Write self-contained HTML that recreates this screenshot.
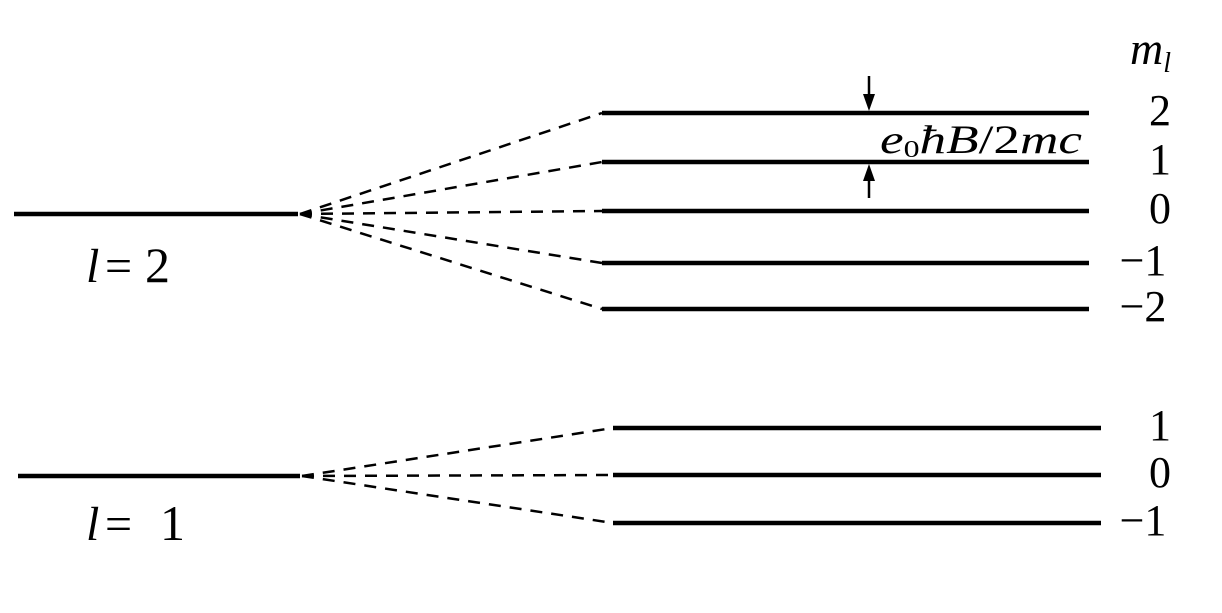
<!DOCTYPE html>
<html><head><style>body{margin:0;background:#fff}</style></head><body>
<svg width="1222" height="608" viewBox="0 0 1222 608" xmlns="http://www.w3.org/2000/svg">
<g stroke="#000" stroke-width="4.5" fill="none">
<line x1="14" y1="214" x2="298" y2="214"/>
<line x1="602" y1="113" x2="1089" y2="113"/>
<line x1="602" y1="162" x2="1089" y2="162"/>
<line x1="602" y1="211" x2="1089" y2="211"/>
<line x1="602" y1="263" x2="1089" y2="263"/>
<line x1="602" y1="309" x2="1089" y2="309"/>
<line x1="18" y1="476" x2="300" y2="476"/>
<line x1="613" y1="428" x2="1101" y2="428"/>
<line x1="613" y1="475" x2="1101" y2="475"/>
<line x1="613" y1="523" x2="1101" y2="523"/>
</g>
<g stroke="#000" stroke-width="2.5" stroke-dasharray="12,9" fill="none">
<line x1="300" y1="214" x2="602" y2="113"/>
<line x1="300" y1="214" x2="602" y2="162"/>
<line x1="300" y1="214" x2="602" y2="211"/>
<line x1="300" y1="214" x2="602" y2="263"/>
<line x1="300" y1="214" x2="602" y2="309"/>
<line x1="302" y1="476" x2="613" y2="428"/>
<line x1="302" y1="476" x2="613" y2="475"/>
<line x1="302" y1="476" x2="613" y2="523"/>
</g>
<g stroke="#000" stroke-width="2.5">
<line x1="869" y1="76" x2="869" y2="100"/>
<line x1="869" y1="175" x2="869" y2="198"/>
</g>
<polygon points="863,94 875,94 869,111" fill="#000"/>
<polygon points="863,181 875,181 869,164" fill="#000"/>
<g font-family="Liberation Serif, serif" font-size="44" fill="#000">
<text x="1130" y="64" font-style="italic" font-size="46">m<tspan font-size="28" dy="8">l</tspan></text>
<text x="1160" y="125" text-anchor="middle">2</text>
<text x="1160" y="174" text-anchor="middle">1</text>
<text x="1160" y="223" text-anchor="middle">0</text>
<text x="1143" y="275" text-anchor="middle">−1</text>
<text x="1143" y="321" text-anchor="middle">−2</text>
<text x="1160" y="440" text-anchor="middle">1</text>
<text x="1160" y="487" text-anchor="middle">0</text>
<text x="1143" y="535" text-anchor="middle">−1</text>
<text x="1082" y="153" text-anchor="end" font-size="40" textLength="202" lengthAdjust="spacingAndGlyphs"><tspan font-style="italic">e</tspan><tspan font-size="24" dy="4">0</tspan><tspan dy="-4" font-style="italic">ħB</tspan>/2<tspan font-style="italic">mc</tspan></text>
<text x="86" y="282" font-size="48" font-style="italic">l</text>
<text x="105" y="282" font-size="48">=</text>
<text x="145" y="282" font-size="50">2</text>
<text x="86" y="540" font-size="48" font-style="italic">l</text>
<text x="105" y="540" font-size="48">=</text>
<text x="160" y="540" font-size="50">1</text>
</g>
</svg>
</body></html>
